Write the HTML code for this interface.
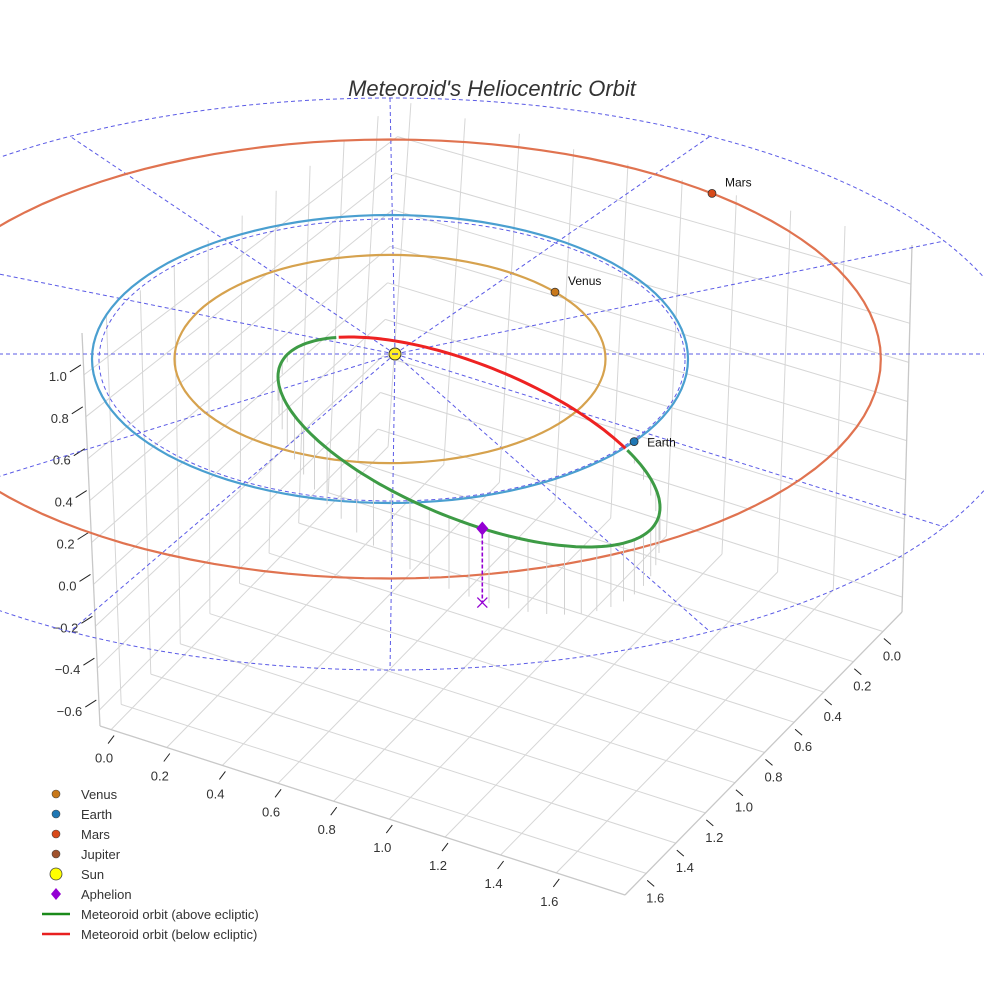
<!DOCTYPE html>
<html><head><meta charset="utf-8"><style>
html,body{margin:0;padding:0;background:#fff;}
svg{display:block;font-family:"Liberation Sans",sans-serif;}
</style></head><body>
<svg id="chart" width="984" height="984" viewBox="0 0 984 984">
<text x="492" y="96" text-anchor="middle" font-size="22" font-style="italic" fill="#333">Meteoroid's Heliocentric Orbit</text>
<g id="grid"></g>
<g id="ecl"></g>
<g id="orbits"></g>
<g id="met"></g>
<g id="marks"></g>
<g id="legend"></g>
</svg>
<script>
// ---- data ----
const xTicks = [0.0,0.2,0.4,0.6,0.8,1.0,1.2,1.4,1.6];
const yTicks = [0.0,0.2,0.4,0.6,0.8,1.0,1.2,1.4,1.6];
const zTicks = [1.0,0.8,0.6,0.4,0.2,0.0,-0.2,-0.4,-0.6];
const planetNames = ["Venus","Earth","Mars"];
const planetRadius = [0.723,1.0,1.524];
const planetAngleDeg = [40,-35,49];
const planetColors = ["#c8781a","#1f77b4","#d84a1a"];
const orbitColors = ["#d6a24e","#4a9fd0","#e07350"];
const metCenter = [469,442];
const metRadii = [191,105];
const metPhaseDeg = -51.5;
const metBelowRangeDeg = [227,326];
const aphelionSDeg = 86;
const aphelionDrop = 74;
const legendLabels = ["Venus","Earth","Mars","Jupiter","Sun","Aphelion","Meteoroid orbit (above ecliptic)","Meteoroid orbit (below ecliptic)"];
const legendColors = ["#c8781a","#1f77b4","#d84a1a","#a0522d","#ffff00","#9400d3","#1a8a1a","#e82020"];

const NS="http://www.w3.org/2000/svg";
function mk(tag,attrs,parent){const e=document.createElementNS(NS,tag);for(const k in attrs)e.setAttribute(k,attrs[k]);parent.appendChild(e);return e;}

// ---- box projection ----
const xmin=-0.04,xmax=1.847,ymin=-0.129,ymax=1.743,zmin=-0.676,zmax=1.2;
const CB=[377,443],CL=[100,726],CF=[625,895],CR=[902,612];
const HB=[23,-343],HL=[-18,-393],HF=[-20,-430],HR=[10,-367];
function bil(A,B,C,D,u,v){return [A[0]*(1-u)*(1-v)+B[0]*u*(1-v)+C[0]*(1-u)*v+D[0]*u*v, A[1]*(1-u)*(1-v)+B[1]*u*(1-v)+C[1]*(1-u)*v+D[1]*u*v];}
function P3(x,y,z){const u=(x-xmin)/(xmax-xmin),v=(y-ymin)/(ymax-ymin);const f=bil(CB,CR,CL,CF,u,v);const h=bil(HB,HR,HL,HF,u,v);const w=(z-zmin)/(zmax-zmin);return [f[0]+h[0]*w,f[1]+h[1]*w];}
const grid=document.getElementById('grid');
function line(p,q,attrs,parent){return mk('line',Object.assign({x1:p[0].toFixed(1),y1:p[1].toFixed(1),x2:q[0].toFixed(1),y2:q[1].toFixed(1)},attrs),parent);}
const gs={stroke:"#d6d6d6","stroke-width":1};
xTicks.forEach(x=>{let l;
 l=line(P3(x,ymin,zmin),P3(x,ymax,zmin),gs,grid);
 l=line(P3(x,ymin,zmin),P3(x,ymin,zmax),gs,grid);});
yTicks.forEach(y=>{let l;
 l=line(P3(xmin,y,zmin),P3(xmax,y,zmin),gs,grid);
 l=line(P3(xmin,y,zmin),P3(xmin,y,zmax),gs,grid);});
zTicks.forEach(z=>{let l;
 l=line(P3(xmin,ymax,z),P3(xmin,ymin,z),gs,grid);
 l=line(P3(xmin,ymin,z),P3(xmax,ymin,z),gs,grid);});
const es={stroke:"#c8c8c8","stroke-width":1.3};
[[P3(xmin,ymax,zmin),P3(xmax,ymax,zmin)],[P3(xmax,ymin,zmin),P3(xmax,ymax,zmin)],[P3(xmin,ymax,zmin),P3(xmin,ymax,zmax)],[P3(xmax,ymin,zmin),P3(xmax,ymin,zmax)]].forEach(s=>{const l=line(s[0],s[1],es,grid);});
// axis ticks + labels
xTicks.forEach(x=>{const p=P3(x,ymax,zmin);const l=line([p[0]+3,p[1]+6],[p[0]-3,p[1]+14],{stroke:"#222","stroke-width":1},grid);
 const t=mk('text',{x:(p[0]-7).toFixed(1),y:(p[1]+33).toFixed(1),"font-size":13,fill:"#333","text-anchor":"middle"},grid);t.textContent=x.toFixed(1);});
yTicks.forEach(y=>{const p=P3(xmax,y,zmin);const l=line([p[0]+1,p[1]+7],[p[0]+8,p[1]+13],{stroke:"#222","stroke-width":1},grid);
 const t=mk('text',{x:(p[0]+9).toFixed(1),y:(p[1]+29).toFixed(1),"font-size":13,fill:"#333","text-anchor":"middle"},grid);t.textContent=y.toFixed(1);});
zTicks.forEach(z=>{const p=P3(xmin,ymax,z);const l=line([p[0]-3,p[1]-10],[p[0]-14,p[1]-3],{stroke:"#222","stroke-width":1},grid);
 const t=mk('text',{x:(p[0]-17).toFixed(1),y:(p[1]+6).toFixed(1),"font-size":13,fill:"#333","text-anchor":"end"},grid);t.textContent=(z<0?"\u2212":"")+Math.abs(z).toFixed(1);});

// ---- ecliptic projection ----
const SUN=[395,354];
function E(r,tDeg){const t=tDeg*Math.PI/180;const rx=298*r+70*Math.max(0,r-1);return [390+rx*Math.cos(t),359-144*r*Math.sin(t)];}
function outer(tDeg){const t=tDeg*Math.PI/180;return [390+640*Math.cos(t),384-286*Math.sin(t)];}
const ecl=document.getElementById('ecl');
const ds={stroke:"#5b5be6","stroke-width":1,"stroke-dasharray":"4,3",fill:"none"};
let oe=mk('ellipse',Object.assign({cx:390,cy:384,rx:640,ry:286},ds),ecl);
let ie=mk('ellipse',Object.assign({cx:392,cy:360,rx:293,ry:141},ds),ecl);
for(let a=0;a<360;a+=30){const q=(a===0)?[1000,354]:(a===180)?[-20,354]:outer(a);const l=line(SUN,q,ds,ecl);}

// ---- planet orbits ----
const orb=document.getElementById('orbits');
planetRadius.forEach((r,i)=>{let d="";for(let a=0;a<=360;a+=3){const p=E(r,a);d+=(a?"L":"M")+p[0].toFixed(1)+","+p[1].toFixed(1);}
 const pa=mk('path',{d:d,fill:"none",stroke:orbitColors[i],"stroke-width":2.2},orb);});

// ---- meteoroid ----
const met=document.getElementById('met');
function M(sDeg){const s=sDeg*Math.PI/180,dl=metPhaseDeg*Math.PI/180;return [metCenter[0]+metRadii[0]*Math.cos(s),metCenter[1]+metRadii[1]*Math.cos(s+dl)];}
for(let a=-30;a<=200;a+=6){const p=M(a);const dz=aphelionDrop*Math.max(0,Math.sin((a+30)*Math.PI/230))*0.9+6;const l=line(p,[p[0],p[1]+dz],{stroke:"#d2d2d2","stroke-width":1},met);}
function arc(a0,a1){let d="";for(let a=a0;a<=a1+0.01;a+=2){const p=M(a);d+=(a===a0?"M":"L")+p[0].toFixed(1)+","+p[1].toFixed(1);}return d;}
let g1=mk('path',{d:arc(metBelowRangeDeg[1],metBelowRangeDeg[0]+360),fill:"none",stroke:"#3d9b45","stroke-width":3},met);
let r1=mk('path',{d:arc(metBelowRangeDeg[0],metBelowRangeDeg[1]),fill:"none",stroke:"#ee2222","stroke-width":3},met);
const ap=M(aphelionSDeg);
let dl=line([ap[0],ap[1]],[ap[0],ap[1]+aphelionDrop],{stroke:"#9400d3","stroke-width":1.6,"stroke-dasharray":"4,2"},met);
let dm=mk('path',{d:`M${ap[0]},${ap[1]-7}L${ap[0]+6},${ap[1]}L${ap[0]},${ap[1]+7}L${ap[0]-6},${ap[1]}Z`,fill:"#9400d3"},met);
const xb=[ap[0],ap[1]+aphelionDrop];
let xm=mk('path',{d:`M${xb[0]-5},${xb[1]-5}L${xb[0]+5},${xb[1]+5}M${xb[0]+5},${xb[1]-5}L${xb[0]-5},${xb[1]+5}`,stroke:"#9400d3","stroke-width":1.3},met);

// ---- markers ----
const mg=document.getElementById('marks');
planetNames.forEach((n,i)=>{const p=E(planetRadius[i],planetAngleDeg[i]);
 const c=mk('circle',{cx:p[0].toFixed(1),cy:p[1].toFixed(1),r:4,fill:planetColors[i],stroke:"#333","stroke-width":0.8},mg);
 const t=mk('text',{x:(p[0]+13).toFixed(1),y:(p[1]-7).toFixed(1),"font-size":12,fill:"#111"},mg);t.textContent=n;
 if(n==="Earth"){t.setAttribute('y',(p[1]+5).toFixed(1));}});
let sc=mk('circle',{cx:SUN[0],cy:SUN[1],r:6,fill:"#ffee22",stroke:"#333","stroke-width":1},mg);
let sl=line([SUN[0]-3,SUN[1]],[SUN[0]+3,SUN[1]],{stroke:"#5050c0","stroke-width":1.5},mg);

// ---- legend ----
const lg=document.getElementById('legend');
legendLabels.forEach((lab,i)=>{const y=794+i*20;const g=mk('g',{},lg);
 if(i<4){mk('circle',{cx:56,cy:y,r:4,fill:legendColors[i],stroke:"#444","stroke-width":0.6},g);}
 else if(i===4){mk('circle',{cx:56,cy:y,r:6,fill:legendColors[i],stroke:"#444","stroke-width":0.8},g);}
 else if(i===5){mk('path',{d:`M56,${y-6}L61,${y}L56,${y+6}L51,${y}Z`,fill:legendColors[i]},g);}
 else{mk('line',{x1:42,y1:y,x2:70,y2:y,stroke:legendColors[i],"stroke-width":2.5},g);}
 const t=mk('text',{x:81,y:y+5,"font-size":13,fill:"#333"},g);t.textContent=lab;});
</script>
</body></html>
